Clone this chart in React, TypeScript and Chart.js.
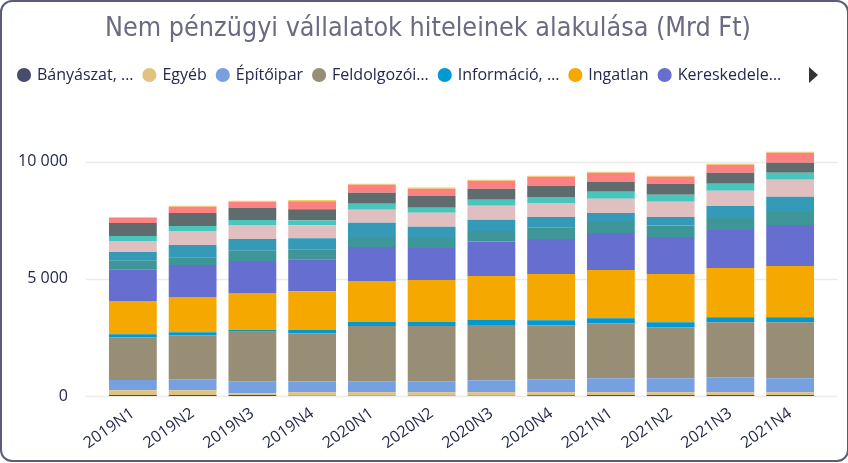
import React, { useEffect, useRef } from "react";
import { Chart, registerables } from "chart.js";

Chart.register(...registerables);

const titleText = "Nem pénzügyi vállalatok hiteleinek alakulása (Mrd Ft)";

const categories = [
  "2019N1", "2019N2", "2019N3", "2019N4",
  "2020N1", "2020N2", "2020N3", "2020N4",
  "2021N1", "2021N2", "2021N3", "2021N4",
];

const seriesNames = [
  "Bányászat, kőfejtés",
  "Egyéb",
  "Építőipar",
  "Feldolgozóipar",
  "Információ, kommunikáció",
  "Ingatlan",
  "Kereskedelem, gépjárműjavítás",
  "Mezőgazdaság",
  "Művészet, szórakoztatás",
  "Szakmai, tudományos, műszaki",
  "Szálláshely, vendéglátás",
  "Szállítás, raktározás",
  "Villamosenergia",
  "Vízellátás",
];

const legendShortNames = [
  "Bányászat, …",
  "Egyéb",
  "Építőipar",
  "Feldolgozói…",
  "Információ, …",
  "Ingatlan",
  "Kereskedele…",
];

const banyaszat = [43, 43, 43, 10, 10, 10, 10, 28, 43, 43, 43, 43];
const egyeb = [200, 200, 71, 150, 150, 150, 150, 128, 114, 114, 114, 114];
const epitoipar = [442, 471, 513, 456, 470, 470, 513, 556, 599, 599, 642, 599];
const feldolgozoipar = [1825, 1882, 2110, 2053, 2353, 2353, 2353, 2310, 2353, 2182, 2353, 2396];
const informacio = [128, 128, 86, 143, 171, 171, 214, 214, 214, 214, 214, 214];
const ingatlan = [1412, 1497, 1569, 1654, 1754, 1797, 1882, 1968, 2053, 2053, 2096, 2182];
const kereskedelem = [1340, 1369, 1369, 1369, 1455, 1369, 1469, 1497, 1583, 1583, 1626, 1754];
const mezogazdasag = [385, 328, 442, 428, 428, 428, 456, 485, 471, 485, 513, 556];
const muveszet = [371, 528, 499, 471, 599, 471, 471, 456, 385, 371, 513, 642];
const szakmai = [471, 599, 599, 556, 556, 599, 599, 599, 599, 642, 642, 727];
const szallashely = [214, 214, 214, 214, 257, 214, 257, 257, 299, 299, 299, 299];
const szallitas = [556, 556, 513, 471, 471, 513, 471, 471, 428, 471, 471, 428];
const villamos = [214, 257, 257, 342, 342, 299, 342, 385, 385, 299, 342, 428];
const vizellatas = [43, 43, 43, 43, 43, 57, 43, 43, 43, 43, 43, 43];

const seriesValues = [
  banyaszat, egyeb, epitoipar, feldolgozoipar, informacio, ingatlan, kereskedelem,
  mezogazdasag, muveszet, szakmai, szallashely, szallitas, villamos, vizellatas,
];

const seriesColors = [
  "#474B6C", "#E1C381", "#77A0E1", "#988D75", "#0099D1", "#F5A800", "#666ED0",
  "#3E9698", "#3599B8", "#DFBFBF", "#4AC5BB", "#5F6B6D", "#FB8281", "#F4D25A",
];

const yTickValues = [0, 5000, 10000];

const textColor = "#24284C";
const baseFont = "'Open Sans', 'Noto Sans', sans-serif";

function formatTick(v: number): string {
  return String(Math.round(v)).replace(/\B(?=(\d{3})+(?!\d))/g, " ");
}

const gridPlugin = {
  id: "extendedGrid",
  beforeDatasetsDraw(chart: any) {
    const { ctx, chartArea, scales } = chart;
    const y = scales.y;
    ctx.save();
    ctx.strokeStyle = "#EBEBEB";
    ctx.lineWidth = 1.5;
    y.ticks.forEach((t: any) => {
      const py = Math.round(y.getPixelForValue(t.value)) + 0.5;
      ctx.beginPath();
      ctx.moveTo(chartArea.left - 17, py);
      ctx.lineTo(chartArea.right + 18, py);
      ctx.stroke();
    });
    ctx.restore();
  },
};

const arrowPlugin = {
  id: "legendArrow",
  afterDraw(chart: any) {
    const { ctx, legend, width } = chart;
    if (!legend) return;
    const cy = legend.top + 11 + 8;
    const x0 = width - 39;
    ctx.save();
    ctx.fillStyle = "#333333";
    ctx.beginPath();
    ctx.moveTo(x0, cy - 8);
    ctx.lineTo(x0 + 9, cy);
    ctx.lineTo(x0, cy + 8);
    ctx.closePath();
    ctx.fill();
    ctx.restore();
  },
};

export default function App() {
  const canvasRef = useRef<HTMLCanvasElement | null>(null);

  useEffect(() => {
    if (!canvasRef.current) return;
    const chart = new Chart(canvasRef.current, {
      type: "bar",
      data: {
        labels: categories,
        datasets: seriesValues.map((vals, i) => ({
          label: seriesNames[i],
          data: vals,
          yAxisID: "y",
          backgroundColor: seriesColors[i],
          borderWidth: 0,
          categoryPercentage: 1,
          barPercentage: 0.8,
        })),
      },
      options: {
        responsive: true,
        maintainAspectRatio: false,
        animation: false,
        events: [],
        layout: { padding: { left: 8, right: 0, top: 0, bottom: 0 } },
        plugins: {
          title: {
            display: true,
            text: titleText,
            color: "#6A6A82",
            font: {
              family: "'Liberation Sans Narrow', 'DejaVu Sans Condensed', Lato, sans-serif",
              size: 26.7,
              weight: "normal",
            },
            padding: { top: 13, bottom: 11 },
          },
          legend: {
            display: true,
            position: "top",
            align: "start",
            labels: {
              usePointStyle: true,
              pointStyle: "circle",
              boxWidth: 10,
              boxHeight: 10,
              padding: 11,
              color: textColor,
              font: { family: baseFont, size: 16 },
              generateLabels: () =>
                legendShortNames.map((t, i) => ({
                  text: t,
                  fillStyle: seriesColors[i],
                  strokeStyle: seriesColors[i],
                  lineWidth: 0,
                  pointStyle: "circle",
                  hidden: false,
                  datasetIndex: i,
                  fontColor: textColor,
                })),
            },
          },
          tooltip: { enabled: false },
        },
        scales: {
          x: {
            stacked: true,
            grid: { display: false, drawTicks: false },
            border: { display: false },
            ticks: {
              color: textColor,
              font: { family: baseFont, size: 16 },
              minRotation: 35,
              maxRotation: 35,
              padding: 8,
              autoSkip: false,
            },
            afterFit: (s: any) => {
              s.height = 67;
            },
          },
          y: {
            stacked: true,
            position: "left",
            min: 0,
            max: 12930,
            grid: { display: false, drawTicks: false },
            border: { display: false },
            afterBuildTicks: (s: any) => {
              s.ticks = yTickValues.map((v) => ({ value: v }));
            },
            ticks: {
              color: textColor,
              font: { family: baseFont, size: 16 },
              padding: 35,
              callback: (v: any) => formatTick(Number(v)),
            },
            afterFit: (s: any) => {
              s.width = 95;
            },
          },
          yRight: {
            position: "right",
            min: 0,
            max: 12930,
            grid: { display: false, drawTicks: false },
            border: { display: false },
            ticks: { display: false },
            afterFit: (s: any) => {
              s.width = 28;
            },
          },
        },
      },
      plugins: [gridPlugin, arrowPlugin],
    });
    return () => chart.destroy();
  }, []);

  return (
    <div style={{ position: "fixed", left: 0, top: 0, width: 848, height: 463, background: "#ffffff" }}>
      <canvas ref={canvasRef} />
      <div
        style={{
          position: "absolute",
          left: 0,
          top: 0,
          width: 849,
          height: 462,
          border: "2px solid #5B5B7B",
          borderRadius: 12,
          boxSizing: "border-box",
          pointerEvents: "none",
        }}
      />
    </div>
  );
}
